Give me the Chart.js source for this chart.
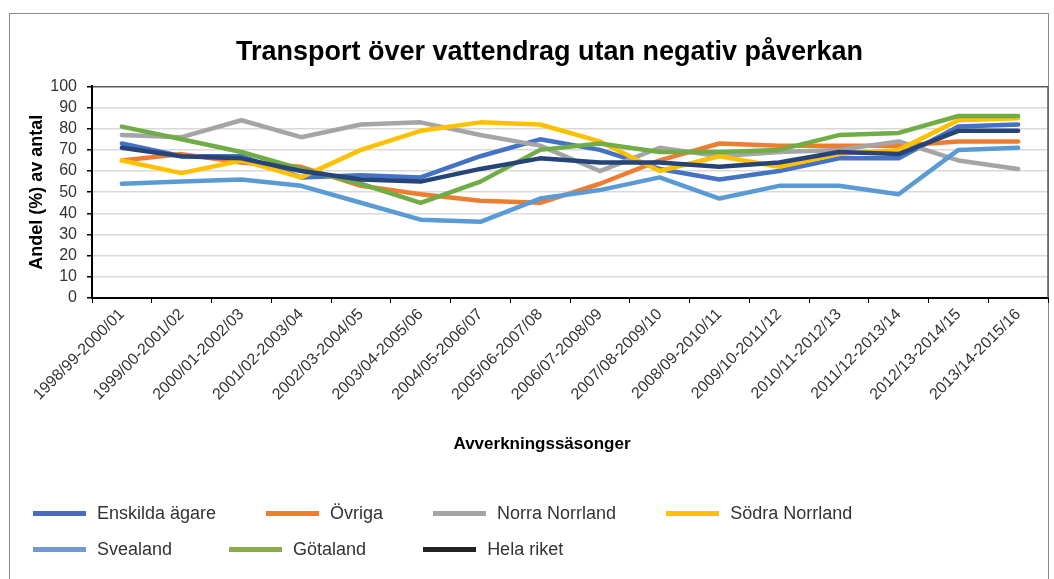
<!DOCTYPE html>
<html lang="sv">
<head>
<meta charset="utf-8">
<title>Transport över vattendrag utan negativ påverkan</title>
<script src="https://cdn.jsdelivr.net/npm/chart.js@4.4.1/dist/chart.umd.min.js"></script>
<style>
  html, body { margin: 0; padding: 0; background: #fff; }
  body { width: 1054px; height: 579px; overflow: hidden; position: relative; font-family: "Liberation Sans", Arial, sans-serif; }
  #ram { position: absolute; left: 9px; top: 13px; width: 1038px; height: 620px; border: 1px solid #8c8c8c; }
  #graf { position: absolute; left: 0; top: 0; }
  #xtitel { position: absolute; left: 0; top: 434px; width: 1084px; text-align: center; font-weight: bold; font-size: 17px; line-height: 20px; color: #000; }
  .rad { position: absolute; left: 33px; display: flex; align-items: center; font-size: 18px; line-height: 22px; color: #333; }
  #rad1 { top: 502px; gap: 50px; }
  #rad2 { top: 538px; gap: 57px; }
  .post { display: flex; align-items: center; }
  .post i { display: inline-block; width: 53px; height: 5px; margin-right: 11px; }
</style>
</head>
<body>
<div id="ram"></div>
<canvas id="graf" width="1054" height="579"></canvas>
<div id="xtitel">Avverkningssäsonger</div>
<div class="rad" id="rad1"></div>
<div class="rad" id="rad2"></div>

<script>
const sasonger = [
  "1998/99-2000/01", "1999/00-2001/02", "2000/01-2002/03", "2001/02-2003/04",
  "2002/03-2004/05", "2003/04-2005/06", "2004/05-2006/07", "2005/06-2007/08",
  "2006/07-2008/09", "2007/08-2009/10", "2008/09-2010/11", "2009/10-2011/12",
  "2010/11-2012/13", "2011/12-2013/14", "2012/13-2014/15", "2013/14-2015/16"
];

const enskildaAgare = [73, 67, 67, 57, 58, 57, 67, 75, 70, 61, 56, 60, 66, 66, 81, 82];
const ovriga        = [65, 68, 64, 62, 53, 49, 46, 45, 54, 65, 73, 72, 72, 72, 74, 74];
const norraNorrland = [77, 76, 84, 76, 82, 83, 77, 72, 60, 71, 67, 69, 70, 74, 65, 61];
const sodraNorrland = [65, 59, 65, 57, 70, 79, 83, 82, 74, 60, 67, 62, 68, 70, 84, 85];
const svealand      = [54, 55, 56, 53, 45, 37, 36, 47, 51, 57, 47, 53, 53, 49, 70, 71];
const gotaland      = [81, 75, 69, 61, 54, 45, 55, 70, 73, 69, 69, 70, 77, 78, 86, 86];
const helaRiket     = [71, 67, 66, 60, 56, 55, 61, 66, 64, 64, 62, 64, 69, 68, 79, 79];

const yTicks = [0, 10, 20, 30, 40, 50, 60, 70, 80, 90, 100];

const serieNamn = ["Enskilda ägare", "Övriga", "Norra Norrland", "Södra Norrland", "Svealand", "Götaland", "Hela riket"];
const serieData = [enskildaAgare, ovriga, norraNorrland, sodraNorrland, svealand, gotaland, helaRiket];
const linjeFarg = ["#4472c4", "#ed7d31", "#a5a5a5", "#ffc000", "#5b9bd5", "#70ad47", "#264478"];
const legendFarg = ["#4a6bc2", "#ed7d31", "#a5a5a5", "#ffc000", "#7099d6", "#8aad4c", "#222222"];

Chart.defaults.font.family = '"Liberation Sans", Arial, sans-serif';

// höger kant på ritytan
const ramlinje = {
  id: "ramlinje",
  afterDraw(chart) {
    const { ctx, chartArea } = chart;
    ctx.save();
    ctx.strokeStyle = "#595959";
    ctx.lineWidth = 1.5;
    ctx.beginPath();
    ctx.moveTo(chartArea.right, chartArea.top);
    ctx.lineTo(chartArea.right, chartArea.bottom);
    ctx.stroke();
    ctx.restore();
  }
};

const chart = new Chart(document.getElementById("graf"), {
  type: "line",
  data: {
    labels: sasonger,
    datasets: serieNamn.map((namn, i) => ({
      label: namn,
      data: serieData[i],
      borderColor: linjeFarg[i],
      backgroundColor: linjeFarg[i],
      borderWidth: 4.5,
      borderCapStyle: "round",
      borderJoinStyle: "round",
      pointRadius: 0,
      tension: 0,
      order: serieNamn.length - i
    }))
  },
  options: {
    responsive: false,
    animation: false,
    layout: { padding: { left: 51, right: 6, top: 0, bottom: 121 } },
    plugins: {
      legend: { display: false },
      tooltip: { enabled: false },
      title: {
        display: true,
        text: "Transport över vattendrag utan negativ påverkan",
        color: "#000",
        font: { size: 27, weight: "bold" },
        padding: { top: 36, bottom: 18 }
      }
    },
    scales: {
      x: {
        offset: true,
        grid: { offset: true, drawOnChartArea: false, drawTicks: true, tickLength: 5, tickColor: "#000" },
        border: { color: "#000", width: 2 },
        ticks: { autoSkip: false, minRotation: 45, maxRotation: 45, padding: 2, color: "#333", font: { size: 16 } },
        afterFit: s => { s.height = 160; }
      },
      y: {
        min: 0,
        max: 100,
        afterBuildTicks: s => { s.ticks = yTicks.map(v => ({ value: v })); },
        grid: {
          color: c => (c.tick && c.tick.value === 100 ? "#595959" : "#d9d9d9"),
          lineWidth: 1.5,
          tickLength: 5,
          tickColor: "#000"
        },
        border: { color: "#000", width: 2 },
        ticks: { autoSkip: false, padding: 10, color: "#333", font: { size: 16 } },
        title: {
          display: true,
          text: "Andel (%) av antal",
          color: "#000",
          font: { size: 18, weight: "bold" },
          padding: { top: -25, bottom: 0 }
        },
        afterFit: s => { s.width = 41; }
      }
    }
  },
  plugins: [ramlinje]
});

// förklaring i två rader, som i originalet
const rader = [document.getElementById("rad1"), document.getElementById("rad2")];
chart.data.datasets.forEach((ds, i) => {
  const post = document.createElement("div");
  post.className = "post";
  const prov = document.createElement("i");
  prov.style.background = legendFarg[i];
  post.appendChild(prov);
  post.appendChild(document.createTextNode(ds.label));
  rader[i < 4 ? 0 : 1].appendChild(post);
});
</script>
</body>
</html>
